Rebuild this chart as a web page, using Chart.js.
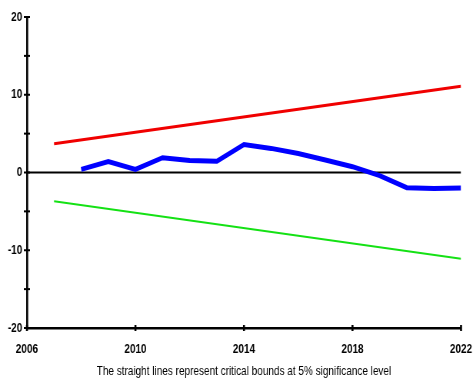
<!DOCTYPE html>
<html>
<head>
<meta charset="utf-8">
<script src="https://cdn.jsdelivr.net/npm/chart.js@4/dist/chart.umd.min.js"></script>
<style>
  body { margin: 0; background: #fff; overflow: hidden; }
  /* o gráfico é desenhado mais largo e comprimido na horizontal (fonte estreita) */
  #cusumChart { transform: scaleX(0.769); transform-origin: 0 0; }
</style>
</head>
<body>
<canvas id="cusumChart" width="615" height="379"></canvas>
<script>
// Série CUSUM (anos e valores)
const years = [2008, 2009, 2010, 2011, 2012, 2013, 2014, 2015, 2016, 2017, 2018, 2019, 2020, 2021, 2022];
const cusum = [0.4, 1.4, 0.4, 1.9, 1.55, 1.45, 3.6, 3.1, 2.45, 1.6, 0.75, -0.4, -1.95, -2.05, -2.0];

// Limites críticos a 5% (retas)
const boundYears = [2007, 2022];
const upperBound = [3.7, 11.1];
const lowerBound = [-3.7, -11.1];

// Linha do zero
const zeroYears = [2006, 2022];
const zeroLine = [0, 0];

const xTicks = [2006, 2010, 2014, 2018, 2022];
const caption = 'The straight lines represent critical bounds at 5% significance level';

const toPoints = (xs, ys) => xs.map((x, i) => ({ x: x, y: ys[i] }));

const FONT = "'Liberation Sans', Arial, sans-serif";

// Marcas dos ticks cruzando os eixos
const tickMarks = {
    id: 'tickMarks',
    afterDatasetsDraw(chart) {
        const ctx = chart.ctx;
        const xs = chart.scales.x;
        const ys = chart.scales.y;
        ctx.save();
        ctx.strokeStyle = '#000';
        ctx.lineWidth = 2;
        ys.ticks.forEach(t => {
            const py = ys.getPixelForValue(t.value);
            ctx.beginPath();
            ctx.moveTo(ys.right - 4, py);
            ctx.lineTo(ys.right + 4, py);
            ctx.stroke();
        });
        ctx.lineWidth = 2.6;
        xs.ticks.forEach(t => {
            const px = xs.getPixelForValue(t.value);
            ctx.beginPath();
            ctx.moveTo(px, xs.top - 3);
            ctx.lineTo(px, xs.top + 3);
            ctx.stroke();
        });
        ctx.restore();
    }
};

const ctx = document.getElementById('cusumChart').getContext('2d');
const chart = new Chart(ctx, {
    type: 'line',
    data: {
        datasets: [
            {
                label: 'CUSUM',
                data: toPoints(years, cusum),
                borderColor: 'rgb(0, 0, 255)',
                borderWidth: 5,
                order: 0
            },
            {
                label: 'Zero',
                data: toPoints(zeroYears, zeroLine),
                borderColor: '#000',
                borderWidth: 2,
                order: 1
            },
            {
                label: 'Upper bound',
                data: toPoints(boundYears, upperBound),
                borderColor: 'rgb(240, 0, 0)',
                borderWidth: 3,
                order: 2
            },
            {
                label: 'Lower bound',
                data: toPoints(boundYears, lowerBound),
                borderColor: 'rgb(20, 225, 20)',
                borderWidth: 2,
                order: 3
            }
        ]
    },
    options: {
        responsive: false,
        animation: false,
        layout: { padding: { left: 0, right: 15.5, top: 17, bottom: 0 } },
        elements: {
            point: { radius: 0, hoverRadius: 0 },
            line: { tension: 0, borderCapStyle: 'butt', borderJoinStyle: 'miter' }
        },
        plugins: {
            legend: { display: false },
            tooltip: { enabled: false }
        },
        scales: {
            x: {
                type: 'linear',
                min: 2006,
                max: 2022,
                afterBuildTicks: (scale) => { scale.ticks = xTicks.map(v => ({ value: v })); },
                afterFit: (scale) => {
                    scale.height = 51;
                    // a área do gráfico vai até a borda direita definida no layout
                    scale.paddingLeft = 0;
                    scale.paddingRight = 0;
                },
                grid: { display: false, drawTicks: false },
                border: { display: true, color: '#000', width: 2.5 },
                ticks: {
                    padding: 14,
                    color: '#000',
                    maxRotation: 0,
                    font: { family: FONT, size: 13, weight: 'bold' },
                    callback: (v) => String(v)
                },
                title: {
                    display: true,
                    text: caption,
                    color: '#000',
                    padding: { top: 0, bottom: 0 },
                    font: { family: FONT, size: 13 }
                }
            },
            y: {
                min: -20,
                max: 20,
                afterFit: (scale) => { scale.width = 35; },
                grid: { display: false, drawTicks: false },
                border: { display: true, color: '#000', width: 2.6 },
                ticks: {
                    stepSize: 5,
                    padding: 6,
                    color: '#000',
                    font: { family: FONT, size: 13, weight: 'bold' },
                    callback: (v) => (v % 10 === 0 ? String(v) : '')
                }
            }
        }
    },
    plugins: [tickMarks]
});
</script>
</body>
</html>
